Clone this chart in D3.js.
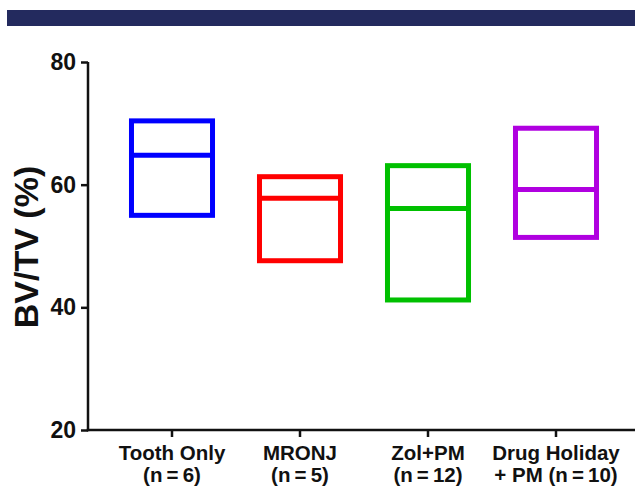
<!DOCTYPE html>
<html>
<head>
<meta charset="utf-8">
<script src="https://cdn.jsdelivr.net/npm/d3@7"></script>
<style>
  html, body { margin: 0; padding: 0; background: #fff; }
  svg { display: block; }
  text { font-family: "Liberation Sans", Arial, sans-serif; font-weight: bold; fill: #111; }
</style>
</head>
<body>
<script>
const categories = ["Tooth Only", "MRONJ", "Zol+PM", "Drug Holiday"];
const labelLine1 = ["Tooth Only", "MRONJ", "Zol+PM", "Drug Holiday"];
const labelLine2 = ["(n\u2009=\u20096)", "(n\u2009=\u20095)", "(n\u2009=\u200912)", "+ PM (n\u2009=\u200910)"];
const boxMax = [70.4, 61.3, 63.1, 69.2];
const boxMedian = [64.8, 57.8, 56.1, 59.2];
const boxMin = [55.0, 47.6, 41.2, 51.4];
const colors = ["#0000ff", "#ff0000", "#00c000", "#b000e0"];
const yTicks = [20, 40, 60, 80];

const W = 635, H = 486;
const svg = d3.select("body").append("svg").attr("width", W).attr("height", H);

// top banner
svg.append("rect").attr("x", 7).attr("y", 10).attr("width", W - 7).attr("height", 16).attr("fill", "#232a5e");

const axisX = 88, axisY = 430, topY = 62;
const y = d3.scaleLinear().domain([20, 80]).range([axisY, topY]);
const x = d3.scaleBand().domain(categories).range([108, 620]).paddingInner(0.367).paddingOuter(0.1835);

// y axis
const yAxis = svg.append("g").attr("transform", `translate(${axisX},0)`)
  .call(d3.axisLeft(y).tickValues(yTicks).tickSize(7).tickPadding(5).tickSizeOuter(0));
yAxis.select(".domain").remove();
yAxis.selectAll("line").attr("stroke", "#111").attr("stroke-width", 2.5);
yAxis.selectAll("text").style("font-size", "23px").attr("fill", "#111").attr("font-weight", "bold");
svg.append("line").attr("x1", axisX).attr("x2", axisX).attr("y1", y(80)).attr("y2", axisY + 1.25)
  .attr("stroke", "#111").attr("stroke-width", 2.5);

// x axis
const xAxis = svg.append("g").attr("transform", `translate(0,${axisY})`)
  .call(d3.axisBottom(x).tickSize(7).tickSizeOuter(0).tickFormat(() => ""));
xAxis.select(".domain").remove();
xAxis.selectAll("line").attr("stroke", "#111").attr("stroke-width", 2.5);
svg.append("line").attr("x1", axisX - 1.25).attr("x2", W).attr("y1", axisY).attr("y2", axisY)
  .attr("stroke", "#111").attr("stroke-width", 2.5);

// x labels
const lab = svg.append("g");
categories.forEach((c, i) => {
  const cx = x(c) + x.bandwidth() / 2;
  const t = lab.append("text").attr("text-anchor", "middle").style("font-size", "20.5px");
  t.append("tspan").attr("x", cx).attr("y", 460).text(labelLine1[i]);
  t.append("tspan").attr("x", cx).attr("y", 482).text(labelLine2[i]);
});

// y label
svg.append("text").attr("transform", `translate(38,247) rotate(-90)`).attr("text-anchor", "middle")
  .style("font-size", "34px").text("BV/TV (%)");

// boxes
const g = svg.append("g");
categories.forEach((c, i) => {
  const x0 = x(c), bw = x.bandwidth();
  g.append("rect").attr("x", x0).attr("y", y(boxMax[i])).attr("width", bw)
    .attr("height", y(boxMin[i]) - y(boxMax[i]))
    .attr("fill", "none").attr("stroke", colors[i]).attr("stroke-width", 5);
  g.append("line").attr("x1", x0).attr("x2", x0 + bw).attr("y1", y(boxMedian[i])).attr("y2", y(boxMedian[i]))
    .attr("stroke", colors[i]).attr("stroke-width", 5);
});
</script>
</body>
</html>
